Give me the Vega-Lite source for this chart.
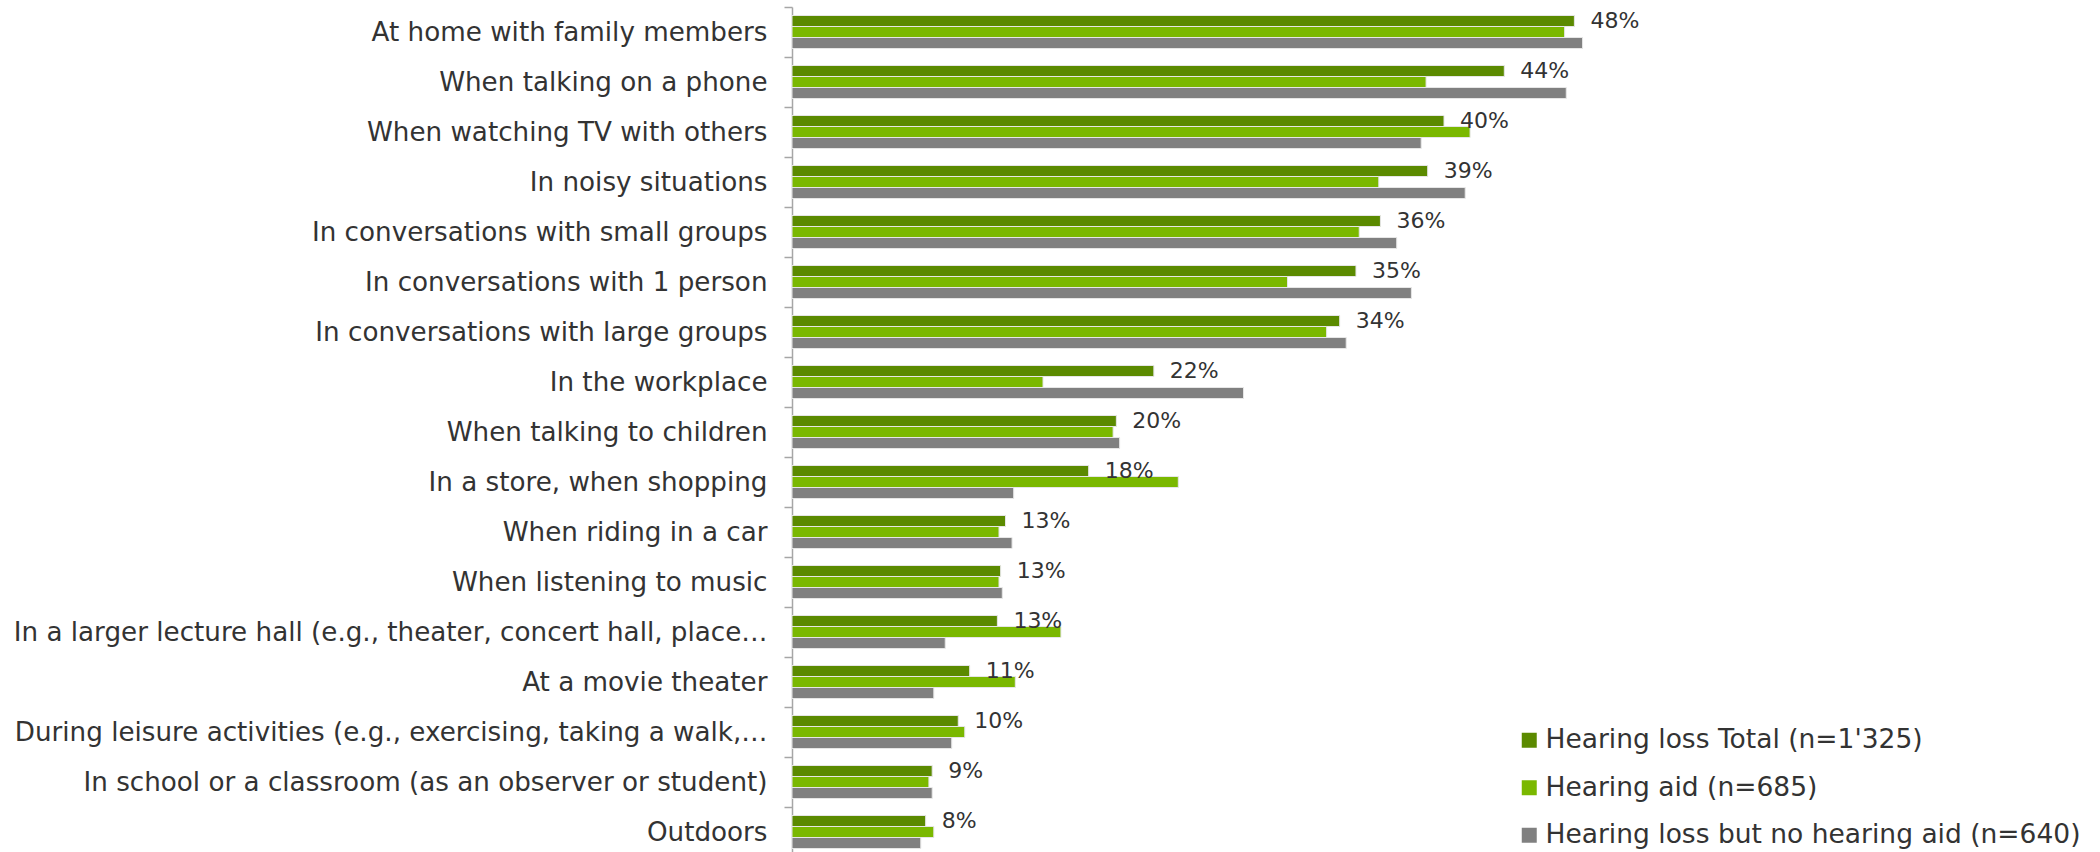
{
  "$schema": "https://vega.github.io/schema/vega-lite/v6.json",
  "width": 978,
  "height": 845,
  "autosize": {"type": "none"},
  "padding": {"left": 792, "top": 7, "right": 330, "bottom": 0},
  "background": "white",
  "config": {"view": {"stroke": null}, "font": "DejaVu Sans"},
  "data": {
    "values": [
      {"cat": "At home with family members", "series": "Hearing loss Total (n=1'325)", "value": 0.480},
      {"cat": "At home with family members", "series": "Hearing aid (n=685)", "value": 0.474},
      {"cat": "At home with family members", "series": "Hearing loss but no hearing aid (n=640)", "value": 0.485},
      {"cat": "When talking on a phone", "series": "Hearing loss Total (n=1'325)", "value": 0.437},
      {"cat": "When talking on a phone", "series": "Hearing aid (n=685)", "value": 0.389},
      {"cat": "When talking on a phone", "series": "Hearing loss but no hearing aid (n=640)", "value": 0.475},
      {"cat": "When watching TV with others", "series": "Hearing loss Total (n=1'325)", "value": 0.400},
      {"cat": "When watching TV with others", "series": "Hearing aid (n=685)", "value": 0.416},
      {"cat": "When watching TV with others", "series": "Hearing loss but no hearing aid (n=640)", "value": 0.386},
      {"cat": "In noisy situations", "series": "Hearing loss Total (n=1'325)", "value": 0.390},
      {"cat": "In noisy situations", "series": "Hearing aid (n=685)", "value": 0.360},
      {"cat": "In noisy situations", "series": "Hearing loss but no hearing aid (n=640)", "value": 0.413},
      {"cat": "In conversations with small groups", "series": "Hearing loss Total (n=1'325)", "value": 0.361},
      {"cat": "In conversations with small groups", "series": "Hearing aid (n=685)", "value": 0.348},
      {"cat": "In conversations with small groups", "series": "Hearing loss but no hearing aid (n=640)", "value": 0.371},
      {"cat": "In conversations with 1 person", "series": "Hearing loss Total (n=1'325)", "value": 0.346},
      {"cat": "In conversations with 1 person", "series": "Hearing aid (n=685)", "value": 0.304},
      {"cat": "In conversations with 1 person", "series": "Hearing loss but no hearing aid (n=640)", "value": 0.380},
      {"cat": "In conversations with large groups", "series": "Hearing loss Total (n=1'325)", "value": 0.336},
      {"cat": "In conversations with large groups", "series": "Hearing aid (n=685)", "value": 0.328},
      {"cat": "In conversations with large groups", "series": "Hearing loss but no hearing aid (n=640)", "value": 0.340},
      {"cat": "In the workplace", "series": "Hearing loss Total (n=1'325)", "value": 0.222},
      {"cat": "In the workplace", "series": "Hearing aid (n=685)", "value": 0.154},
      {"cat": "In the workplace", "series": "Hearing loss but no hearing aid (n=640)", "value": 0.277},
      {"cat": "When talking to children", "series": "Hearing loss Total (n=1'325)", "value": 0.199},
      {"cat": "When talking to children", "series": "Hearing aid (n=685)", "value": 0.197},
      {"cat": "When talking to children", "series": "Hearing loss but no hearing aid (n=640)", "value": 0.201},
      {"cat": "In a store, when shopping", "series": "Hearing loss Total (n=1'325)", "value": 0.182},
      {"cat": "In a store, when shopping", "series": "Hearing aid (n=685)", "value": 0.237},
      {"cat": "In a store, when shopping", "series": "Hearing loss but no hearing aid (n=640)", "value": 0.136},
      {"cat": "When riding in a car", "series": "Hearing loss Total (n=1'325)", "value": 0.131},
      {"cat": "When riding in a car", "series": "Hearing aid (n=685)", "value": 0.127},
      {"cat": "When riding in a car", "series": "Hearing loss but no hearing aid (n=640)", "value": 0.135},
      {"cat": "When listening to music", "series": "Hearing loss Total (n=1'325)", "value": 0.128},
      {"cat": "When listening to music", "series": "Hearing aid (n=685)", "value": 0.127},
      {"cat": "When listening to music", "series": "Hearing loss but no hearing aid (n=640)", "value": 0.129},
      {"cat": "In a larger lecture hall (e.g., theater, concert hall, place…", "series": "Hearing loss Total (n=1'325)", "value": 0.126},
      {"cat": "In a larger lecture hall (e.g., theater, concert hall, place…", "series": "Hearing aid (n=685)", "value": 0.165},
      {"cat": "In a larger lecture hall (e.g., theater, concert hall, place…", "series": "Hearing loss but no hearing aid (n=640)", "value": 0.094},
      {"cat": "At a movie theater", "series": "Hearing loss Total (n=1'325)", "value": 0.109},
      {"cat": "At a movie theater", "series": "Hearing aid (n=685)", "value": 0.137},
      {"cat": "At a movie theater", "series": "Hearing loss but no hearing aid (n=640)", "value": 0.087},
      {"cat": "During leisure activities (e.g., exercising, taking a walk,…", "series": "Hearing loss Total (n=1'325)", "value": 0.102},
      {"cat": "During leisure activities (e.g., exercising, taking a walk,…", "series": "Hearing aid (n=685)", "value": 0.106},
      {"cat": "During leisure activities (e.g., exercising, taking a walk,…", "series": "Hearing loss but no hearing aid (n=640)", "value": 0.098},
      {"cat": "In school or a classroom (as an observer or student)", "series": "Hearing loss Total (n=1'325)", "value": 0.086},
      {"cat": "In school or a classroom (as an observer or student)", "series": "Hearing aid (n=685)", "value": 0.084},
      {"cat": "In school or a classroom (as an observer or student)", "series": "Hearing loss but no hearing aid (n=640)", "value": 0.086},
      {"cat": "Outdoors", "series": "Hearing loss Total (n=1'325)", "value": 0.082},
      {"cat": "Outdoors", "series": "Hearing aid (n=685)", "value": 0.087},
      {"cat": "Outdoors", "series": "Hearing loss but no hearing aid (n=640)", "value": 0.079}
    ]
  },
  "encoding": {
    "y": {
      "field": "cat",
      "type": "nominal",
      "sort": null,
      "scale": {"range": [0, 850], "paddingInner": 0.34, "paddingOuter": 0.17},
      "axis": {
        "title": null,
        "labelFont": "DejaVu Sans",
        "labelFontSize": 26.2,
        "labelColor": "#333333",
        "labelLimit": 800,
        "labelPadding": 17,
        "tickSize": 8,
        "tickColor": "#a6a6a6",
        "tickWidth": 1.5,
        "domainColor": "#a6a6a6",
        "domainWidth": 1.5,
        "bandPosition": 0,
        "tickOffset": -8.5,
        "labelOffset": 8.5
      }
    }
  },
  "layer": [
    {
      "mark": {"type": "bar", "stroke": "#e6e6e6", "strokeWidth": 1},
      "encoding": {
        "x": {"field": "value", "type": "quantitative", "scale": {"domain": [0, 0.6]}, "axis": null},
        "yOffset": {"field": "series", "sort": ["Hearing loss Total (n=1'325)", "Hearing aid (n=685)", "Hearing loss but no hearing aid (n=640)"]},
        "color": {
          "field": "series",
          "type": "nominal",
          "scale": {
            "domain": ["Hearing loss Total (n=1'325)", "Hearing aid (n=685)", "Hearing loss but no hearing aid (n=640)"],
            "range": ["#5B8A00", "#7AB800", "#808080"]
          },
          "legend": {
            "title": null,
            "orient": "none",
            "legendX": 724,
            "legendY": 720,
            "symbolType": "square",
            "symbolSize": 225,
            "symbolStrokeWidth": 0,
            "labelFont": "DejaVu Sans",
            "labelFontSize": 26.5,
            "labelColor": "#333333",
            "labelLimit": 700,
            "labelOffset": 3,
            "rowPadding": 20.5,
            "padding": 0
          }
        }
      }
    },
    {
      "transform": [{"filter": {"field": "series", "equal": "Hearing loss Total (n=1'325)"}}],
      "mark": {"type": "text", "align": "left", "baseline": "middle", "dx": 16, "dy": -11, "fontSize": 22, "font": "DejaVu Sans", "color": "#333333"},
      "encoding": {
        "x": {"field": "value", "type": "quantitative"},
        "text": {"field": "value", "type": "quantitative", "format": ".0%"}
      }
    }
  ]
}
